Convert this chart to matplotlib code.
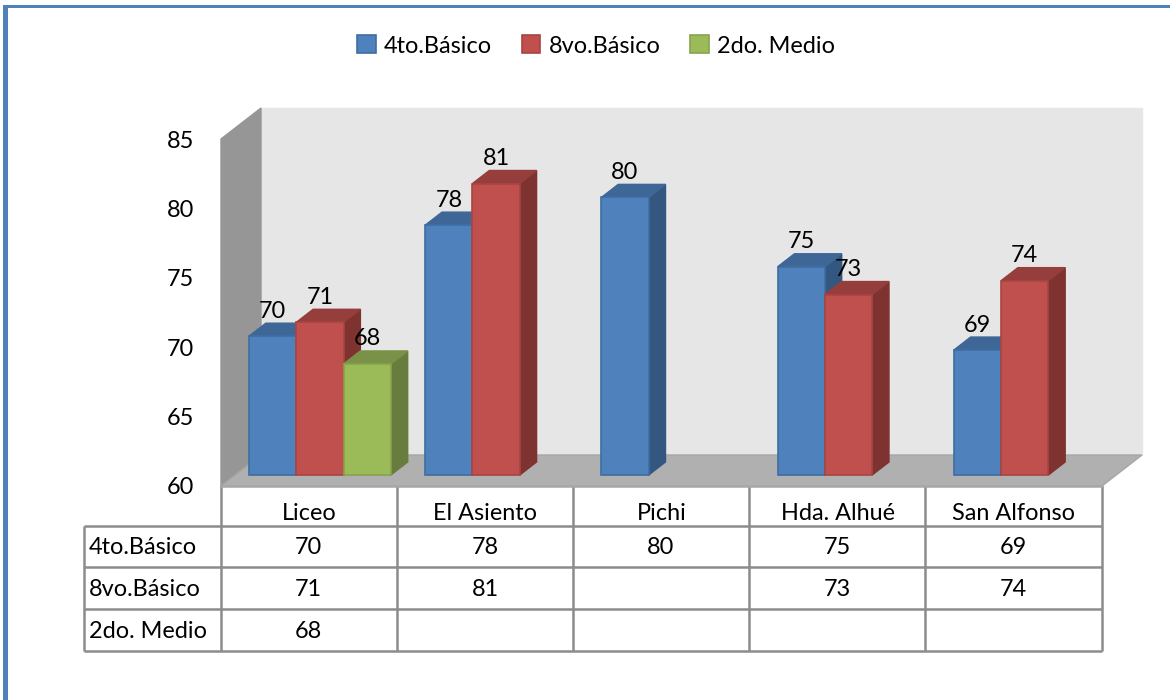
"""Escuelas: 3D-look clustered bars with a data table below."""
import matplotlib
matplotlib.use("Agg")
import matplotlib.pyplot as plt
from matplotlib.patches import Polygon, Rectangle

categories = ["Liceo", "El Asiento", "Pichi", "Hda. Alhué", "San Alfonso"]
series_names = ["4to.Básico", "8vo.Básico", "2do. Medio"]
basico4 = [70, 78, 80, 75, 69]
basico8 = [71, 81, None, 73, 74]
medio2 = [68, None, None, None, None]
yticks = [60, 65, 70, 75, 80, 85]

series = [basico4, basico8, medio2]
front_colors = ["#4f81bd", "#c0504d", "#9bbb59"]
edge_colors = ["#3f6da3", "#a84543", "#86a34b"]
top_colors = ["#3e6797", "#953e3b", "#7a9248"]
side_colors = ["#345781", "#7f3331", "#677c3d"]

W, H = 1170, 700
PX_X = 176.2   # px per category
PX_Y = 13.88   # px per value unit
DEPTH_X = 40 / PX_X
DEPTH_Y = 31 / PX_Y
BAR_W = 47.3 / PX_X
BAR_START = 0.0783
D_FRONT = 0.355
D_BACK = 0.775
FS = 16.9

plt.rcParams["font.family"] = ["Lato", "DejaVu Sans"]
fig = plt.figure(figsize=(W / 100, H / 100), dpi=100)

# pixel overlay for frame and table
ov = fig.add_axes([0, 0, 1, 1], zorder=0)
ov.set_xlim(0, W)
ov.set_ylim(H, 0)
ov.axis("off")
ov.add_patch(Rectangle((3, 5), W, 2.6, color="#4f81bd", lw=0))
ov.add_patch(Rectangle((3, 5), 5.2, H, color="#4f81bd", lw=0))

ax = fig.add_axes([221 / W, 1 - 486 / H, 881 / W, 347 / H], zorder=1)
ax.patch.set_alpha(0)
ax.set_xlim(0, len(categories))
ax.set_ylim(60, 85)
for s in ax.spines.values():
    s.set_visible(False)


def proj(x, y, d):
    return (x + d * DEPTH_X, y + d * DEPTH_Y)


def face(points, color, z, edge=None):
    ax.add_patch(Polygon(points, closed=True, facecolor=color,
                         edgecolor=edge or color, lw=1, zorder=z, clip_on=False))


# walls and floor
n = len(categories)
face([proj(0, 60, 1), proj(n, 60, 1), proj(n, 85, 1), proj(0, 85, 1)], "#e6e6e6", 1)
face([proj(0, 60, 0), proj(0, 60, 1), proj(0, 85, 1), proj(0, 85, 0)], "#969696", 2)
face([proj(0, 60, 0), proj(n, 60, 0), proj(n, 60, 1), proj(0, 60, 1)], "#b0b0b0", 2, "#a6a6a6")

# bars, left to right so nearer faces overlap correctly
z = 3
for i in range(n):
    for j, values in enumerate(series):
        v = values[i]
        if v is None:
            continue
        x0 = i + BAR_START + j * BAR_W
        x1 = x0 + BAR_W
        face([proj(x1, 60, D_FRONT), proj(x1, 60, D_BACK), proj(x1, v, D_BACK), proj(x1, v, D_FRONT)],
             side_colors[j], z)
        face([proj(x0, v, D_FRONT), proj(x1, v, D_FRONT), proj(x1, v, D_BACK), proj(x0, v, D_BACK)],
             top_colors[j], z)
        fx, fy = proj(x0, 60, D_FRONT)
        ax.bar(fx, v - 60, BAR_W, bottom=fy, align="edge", color=front_colors[j],
               edgecolor=edge_colors[j], linewidth=1.2, zorder=z + 0.5, clip_on=False)
        z += 1

# data labels on top of everything
for i in range(n):
    for j, values in enumerate(series):
        v = values[i]
        if v is None:
            continue
        x, y = proj(i + BAR_START + (j + 0.5) * BAR_W, v, D_FRONT)
        ax.text(x, y + 25 / PX_Y, str(v), ha="center", va="center", fontsize=FS,
                color="black", zorder=50, clip_on=False)

ax.set_yticks(yticks)
ax.set_xticks([i + 0.5 for i in range(n)], categories)
ax.tick_params(axis="both", length=0, labelsize=FS, labelcolor="black")
ax.tick_params(axis="y", pad=19.5)
ax.tick_params(axis="x", pad=12)

# table grid
GRID = "#8c8c8c"
col_x = [220.5, 397, 573, 749, 925, 1101.5]
row_y = [486, 526, 567, 609, 651]
left = 84
for k, cx in enumerate(col_x):
    ov.plot([cx, cx], [row_y[0], row_y[-1]], color=GRID, lw=1.8, solid_capstyle="butt")
ov.plot([left, left], [row_y[1], row_y[-1]], color=GRID, lw=1.8, solid_capstyle="butt")
ov.plot([col_x[0], col_x[-1]], [row_y[0], row_y[0]], color="#a6a6a6", lw=1.8)
for ry in row_y[1:]:
    ov.plot([left, col_x[-1]], [ry, ry], color=GRID, lw=1.8, solid_capstyle="butt")

for r, (name, values) in enumerate(zip(series_names, series)):
    cy = (row_y[r + 1] + row_y[r + 2]) / 2 + 1
    ov.text(89, cy, name, ha="left", va="center", fontsize=FS, color="black")
    for c, v in enumerate(values):
        if v is not None:
            ov.text((col_x[c] + col_x[c + 1]) / 2, cy, str(v), ha="center", va="center",
                    fontsize=FS, color="black")

# legend
legend_handles = [Rectangle((0, 0), 1, 1, facecolor=front_colors[j], edgecolor=edge_colors[j], lw=1.2)
                  for j in range(3)]
fig.legend(legend_handles, series_names, loc="center", bbox_to_anchor=(596 / W, 1 - 46 / H),
           ncol=3, frameon=False, fontsize=FS, handlelength=0.8, handleheight=0.8,
           handletextpad=0.35, columnspacing=1.25)

fig.savefig("out.png", dpi=100)
